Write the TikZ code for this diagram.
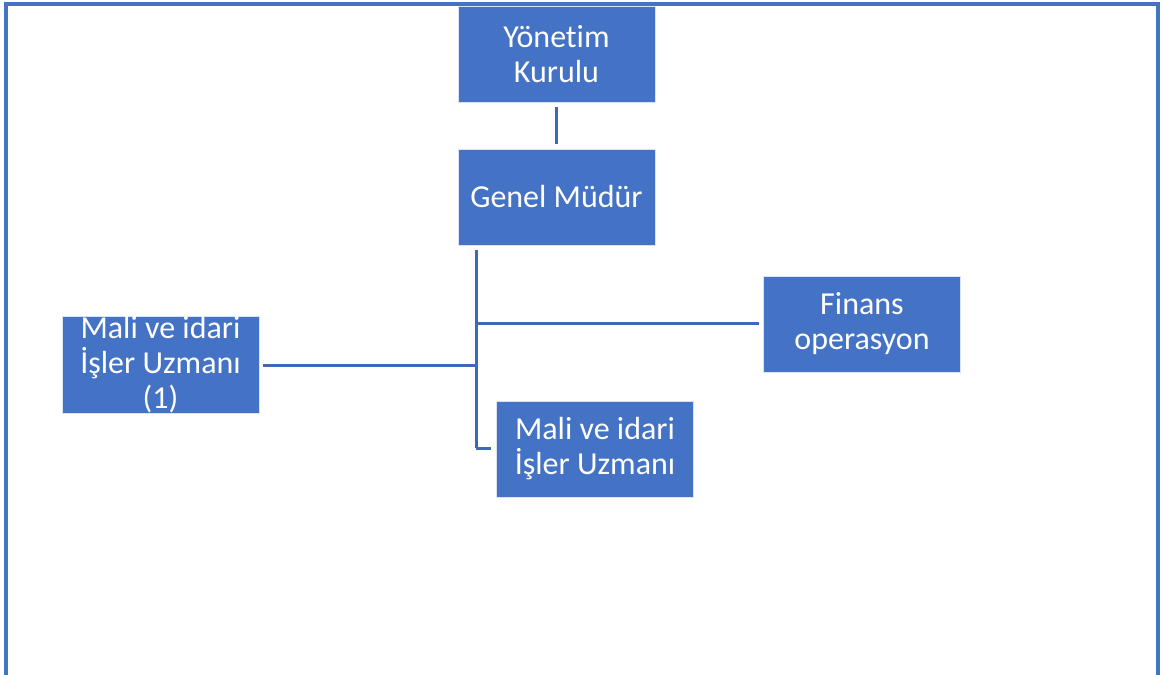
\documentclass[tikz,border=0pt]{standalone}
\usepackage{fontspec}
\setmainfont{Carlito}[Ligatures={NoCommon}]
\definecolor{boxblue}{HTML}{4472C4}
\definecolor{lineblue}{HTML}{4068B8}
\begin{document}
\begin{tikzpicture}[x=1pt,y=-1pt,
  orgbox/.style={rectangle, fill=boxblue, draw=white!80!boxblue, line width=0.6pt,
    minimum width=197pt, minimum height=96pt, inner sep=0pt, text=white,
    align=center,
    font=\fontsize{32}{35}\selectfont},
  link/.style={draw=lineblue, line width=3pt}]
\useasboundingbox (0,0) rectangle (1163,675);
\clip (0,0) rectangle (1163,675);
\draw[draw=boxblue, line width=3.5pt] (6,4) rectangle (1158,690);
\node[orgbox] (yk) at (556.5,54) {Yönetim\\Kurulu};
\node[orgbox] (gm) at (556.5,197) {Genel Müdür};
\node[orgbox] (m1) at (160.5,365) {Mali ve idari\\İşler Uzmanı\\(1)};
\node[orgbox] (fo) at (862,324) {Finans\\operasyon};
\node[orgbox] (m2) at (595,449) {Mali ve idari\\İşler Uzmanı};
\coordinate (t0) at (476,250);
\coordinate (t1) at (476,323);
\coordinate (t2) at (476,365);
\coordinate (t3) at (476,448);
\draw[link, shorten <=5pt, shorten >=5pt] (yk.south) -- (gm.north);
\draw[link] (t0) -- (t3);
\draw[link, shorten >=4pt] (t1) -- (t1 -| fo.west);
\draw[link, shorten >=4pt] (t2) -- (m1.east);
\draw[link, shorten >=5pt] (t3) -- (t3 -| m2.west);
\end{tikzpicture}
\end{document}
